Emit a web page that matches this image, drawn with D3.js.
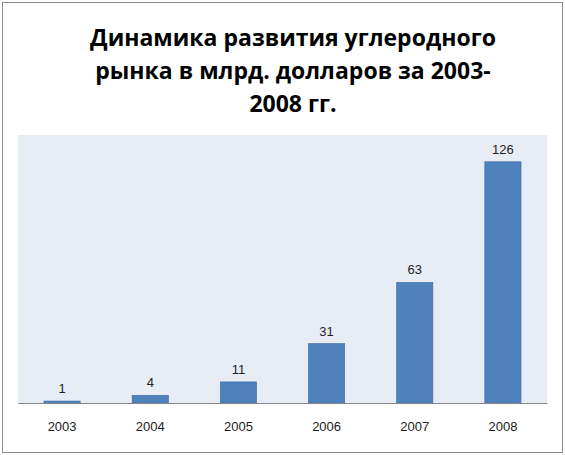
<!DOCTYPE html><html><head><meta charset="utf-8"><script src="https://d3js.org/d3.v7.min.js"></script>
<style>body{margin:0;background:#fff}</style></head><body><svg id="c" width="565" height="455"></svg>
<script>
const categories=["2003","2004","2005","2006","2007","2008"];
const values=[1,4,11,31,63,126];
const titleLines=["Динамика развития углеродного","рынка в млрд. долларов за 2003-","2008 гг."];
const svg=d3.select("#c");
svg.append("rect").attr("x",2.5).attr("y",2.5).attr("width",560).attr("height",450).attr("fill","#fff").attr("stroke","#8c8c8c");
const L=18,R=547,T=135,B=403;
svg.append("rect").attr("x",L).attr("y",T).attr("width",R-L).attr("height",B-T).attr("fill","#e8edf5");
const x=d3.scaleBand().domain(categories).range([L,R]).paddingInner(0.59).paddingOuter(0.295);
const y=d3.scaleLinear().domain([0,140]).range([B,T]);
svg.selectAll(".b").data(values).join("rect").attr("x",(d,i)=>x(categories[i])).attr("y",d=>y(d)).attr("width",x.bandwidth()).attr("height",d=>B-y(d)).attr("fill","#4f81bd").attr("stroke","#3f6fa8").attr("stroke-width",0.7);
svg.selectAll(".l").data(values).join("text").attr("x",(d,i)=>x(categories[i])+x.bandwidth()/2).attr("y",d=>y(d)-8).attr("text-anchor","middle").attr("font-family","Liberation Sans, Arial").attr("font-size",13).attr("fill","#222").text(d=>d);
const ax=svg.append("g").attr("transform",`translate(0,${B})`).call(d3.axisBottom(x).tickSize(0).tickPadding(19));
ax.select(".domain").attr("stroke","#868686");
ax.selectAll("text").attr("font-family","Liberation Sans, Arial").attr("font-size",13).attr("fill","#222");
svg.append("text").attr("text-anchor","middle").attr("font-family","Open Sans, Liberation Sans").attr("font-weight","bold").attr("font-size",23).attr("fill","#000")
 .selectAll("tspan").data(titleLines).join("tspan").attr("x",293).attr("y",(d,i)=>46+i*33).text(d=>d);
</script></body></html>
